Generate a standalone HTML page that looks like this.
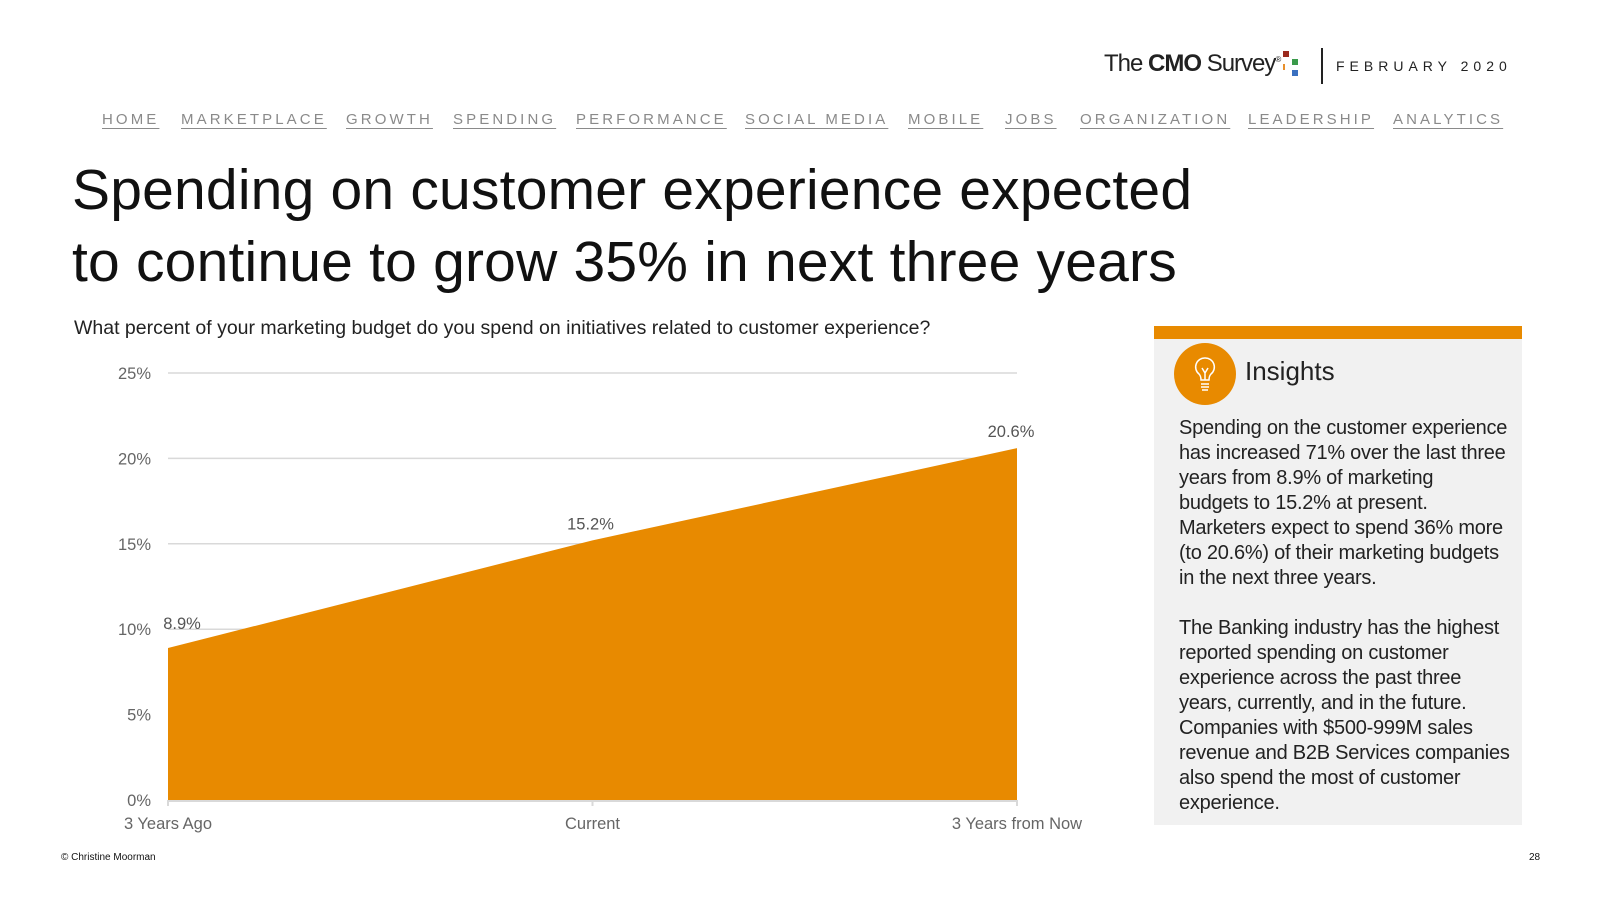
<!DOCTYPE html>
<html><head><meta charset="utf-8">
<style>
body{margin:0;width:1600px;height:900px;background:#fff;position:relative;overflow:hidden;font-family:"Liberation Sans",Arial,sans-serif;}
.abs{position:absolute;}
.nav{position:absolute;top:111px;font-size:15px;letter-spacing:3.1px;color:#8a8a8a;text-decoration:underline;text-underline-offset:4px;white-space:nowrap;}
.title{left:72px;font-size:57px;color:#111;white-space:nowrap;letter-spacing:0.2px;}
.body{left:1179px;top:416px;width:345px;font-size:20px;line-height:25px;color:#222;letter-spacing:-0.25px;white-space:nowrap;}
</style></head><body>
<div class="abs" style="left:1104px;top:50px;font-size:24px;color:#222;white-space:nowrap;letter-spacing:-1px;">The <b>CMO</b> Survey<sup style="font-size:8px">®</sup></div>
<svg class="abs" style="left:1283px;top:50px" width="28" height="28">
<rect x="0" y="1" width="6" height="6" fill="#9b2a1e"/><rect x="-4" y="14" width="6" height="6" fill="#e8902c"/><rect x="9" y="9" width="6" height="6" fill="#3a9a4a"/><rect x="9" y="20" width="6" height="6" fill="#3a70c0"/></svg>
<div class="abs" style="left:1321px;top:48px;width:2px;height:36px;background:#222"></div>
<div class="abs" style="left:1336px;top:58px;font-size:14px;letter-spacing:5px;color:#222">FEBRUARY 2020</div>

<span class="nav" style="left:102px">HOME</span>
<span class="nav" style="left:181px">MARKETPLACE</span>
<span class="nav" style="left:346px">GROWTH</span>
<span class="nav" style="left:453px">SPENDING</span>
<span class="nav" style="left:576px">PERFORMANCE</span>
<span class="nav" style="left:745px">SOCIAL MEDIA</span>
<span class="nav" style="left:908px">MOBILE</span>
<span class="nav" style="left:1005px">JOBS</span>
<span class="nav" style="left:1080px">ORGANIZATION</span>
<span class="nav" style="left:1248px">LEADERSHIP</span>
<span class="nav" style="left:1393px">ANALYTICS</span>

<div class="abs title" style="top:157px">Spending on customer experience expected</div>
<div class="abs title" style="top:229px">to continue to grow 35% in next three years</div>
<div class="abs" style="left:74px;top:317px;font-size:19.5px;color:#222;white-space:nowrap;letter-spacing:0px">What percent of your marketing budget do you spend on initiatives related to customer experience?</div>

<svg class="abs" id="chart" style="left:0;top:0" width="1130" height="850"></svg>

<div class="abs" style="left:1154px;top:326px;width:368px;height:499px;background:#f1f1f1;border-top:13px solid #e88a00;box-sizing:border-box"></div>
<svg class="abs" style="left:1174px;top:343px" width="62" height="62">
<circle cx="31" cy="31" r="31" fill="#e88a00"/>
<path d="M31 15a9 9 0 0 0-6 16c2 2 2 4 2 6h8c0-2 0-4 2-6a9 9 0 0 0-6-16z" fill="none" stroke="#fff" stroke-width="1.5"/>
<path d="M27 41h8M27 44h8M28 47h6M28 25l3 5 3-5M31 30v7" fill="none" stroke="#fff" stroke-width="1.5"/></svg>
<div class="abs" style="left:1245px;top:356px;font-size:26px;color:#222">Insights</div>
<div class="abs body">Spending on the customer experience<br>has increased 71% over the last three<br>years from 8.9% of marketing<br>budgets to 15.2% at present.<br>Marketers expect to spend 36% more<br>(to 20.6%) of their marketing budgets<br>in the next three years.<br><br>The Banking industry has the highest<br>reported spending on customer<br>experience across the past three<br>years, currently, and in the future.<br>Companies with $500-999M sales<br>revenue and B2B Services companies<br>also spend the most of customer<br>experience.</div>

<div class="abs" style="left:61px;top:852px;font-size:10px;color:#111">© Christine Moorman</div>
<div class="abs" style="left:1529px;top:852px;font-size:10px;color:#111">28</div>

<script>
const categories = ["3 Years Ago", "Current", "3 Years from Now"];
const values = [8.9, 15.2, 20.6];
const valueLabels = ["8.9%", "15.2%", "20.6%"];
const yTicks = [0, 5, 10, 15, 20, 25];
const yTickLabels = ["0%", "5%", "10%", "15%", "20%", "25%"];

const NS = "http://www.w3.org/2000/svg";
const svg = document.getElementById("chart");
const x0 = 168, x1 = 1017, yBase = 800, yTop = 373, yMax = 25;
function xs(i){ return x0 + (x1 - x0) * i / (categories.length - 1); }
function ys(v){ return yBase - (yBase - yTop) * v / yMax; }
function mk(tag, attrs){ const e = document.createElementNS(NS, tag); for (const k in attrs) e.setAttribute(k, attrs[k]); svg.appendChild(e); return e; }

yTicks.forEach((t, i) => {
  if (t > 0) {
    const g = mk("line", {x1: x0, x2: x1, y1: ys(t), y2: ys(t), stroke: "#d9d9d9", "stroke-width": 1.5});
    
    
  }
  const tx = mk("text", {x: 151, y: ys(t) + 6, "text-anchor": "end", "font-size": 16.5, fill: "#666", "font-family": "Liberation Sans, sans-serif"});
  tx.textContent = yTickLabels[i];
  
  
});

let d = "M" + xs(0) + "," + yBase;
values.forEach((v, i) => { d += " L" + xs(i) + "," + ys(v); });
d += " L" + xs(values.length - 1) + "," + yBase + " Z";
const area = mk("path", {d: d, fill: "#e88a00"});



const ax = mk("line", {x1: x0, x2: x1, y1: yBase + 1, y2: yBase + 1, stroke: "#d9d9d9", "stroke-width": 2});



categories.forEach((c, i) => {
  const tk = mk("line", {x1: xs(i), x2: xs(i), y1: yBase, y2: yBase + 6, stroke: "#d9d9d9", "stroke-width": 2});
  
  
  const t = mk("text", {x: xs(i), y: 829, "text-anchor": "middle", "font-size": 16.5, fill: "#666", "font-family": "Liberation Sans, sans-serif"});
  t.textContent = c;
  
  
});

const labelDx = [14, -2, -6];
const labelDy = [-19, -11, -11];
values.forEach((v, i) => {
  const t = mk("text", {x: xs(i) + labelDx[i], y: ys(v) + labelDy[i], "text-anchor": "middle", "font-size": 16.5, fill: "#555", "font-family": "Liberation Sans, sans-serif"});
  t.textContent = valueLabels[i];
  
  
});
</script>
</body></html>
